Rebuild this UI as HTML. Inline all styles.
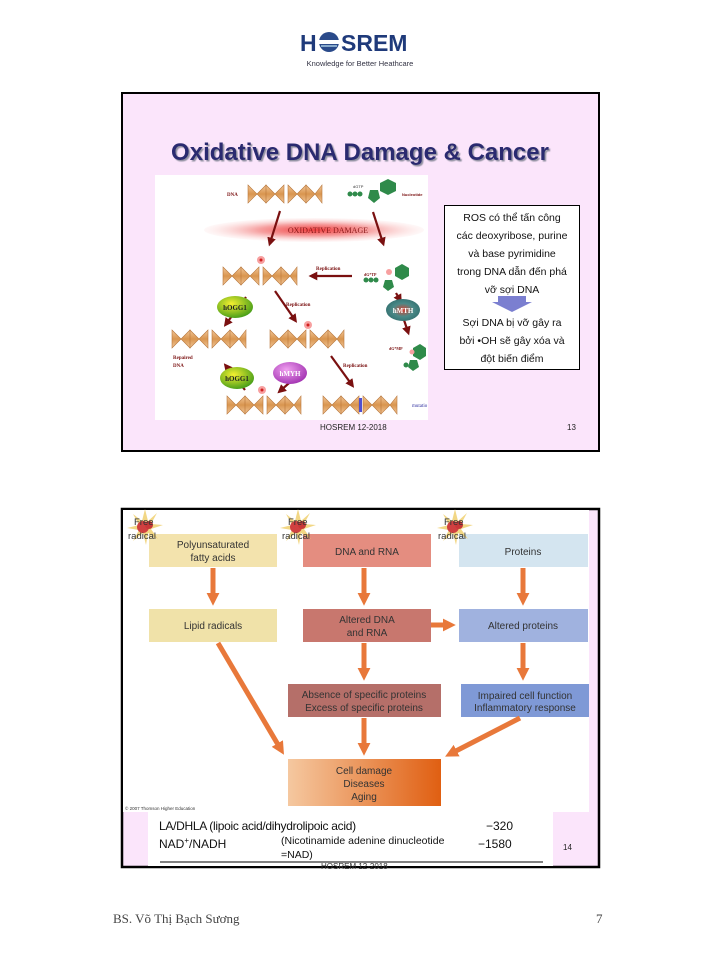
<!DOCTYPE html>
<html><head><meta charset="utf-8"><style>
body{margin:0;width:720px;height:960px;background:#fff;position:relative;font-family:"Liberation Sans",sans-serif;overflow:hidden}
.a{position:absolute}
</style></head><body>
<svg class="a" style="left:0;top:0" width="720" height="960" viewBox="0 0 720 960">
<defs>
 <linearGradient id="hx" x1="0" y1="0" x2="0" y2="1"><stop offset="0" stop-color="#f2c89a"/><stop offset="0.5" stop-color="#d9954f"/><stop offset="1" stop-color="#f2c89a"/></linearGradient>
 <g id="hel">
  <path d="M0,0 L9,9 L0,18 Z M18,0 L9,9 L18,18 Z M18,0 L27,9 L18,18Z M36,0 L27,9 L36,18Z" fill="url(#hx)" stroke="#b8763a" stroke-width="0.6"/>
  <path d="M40,0 L49,9 L40,18 Z M58,0 L49,9 L58,18 Z M58,0 L67,9 L58,18Z M74,0 L67,9 L74,18Z" fill="url(#hx)" stroke="#b8763a" stroke-width="0.6"/>
 </g>
 <radialGradient id="ox" cx="0.5" cy="0.5" r="0.5"><stop offset="0" stop-color="#f04040"/><stop offset="0.5" stop-color="#f6a0a0"/><stop offset="1" stop-color="#fde8e8" stop-opacity="0.3"/></radialGradient>
 <radialGradient id="gr" cx="0.4" cy="0.35" r="0.7"><stop offset="0" stop-color="#f5f030"/><stop offset="1" stop-color="#3f9a18"/></radialGradient>
 <radialGradient id="tl" cx="0.5" cy="0.5" r="0.6"><stop offset="0" stop-color="#d84030"/><stop offset="0.5" stop-color="#4a8a88"/><stop offset="1" stop-color="#2f6a6a"/></radialGradient>
 <radialGradient id="pu" cx="0.4" cy="0.35" r="0.7"><stop offset="0" stop-color="#f0a0f0"/><stop offset="1" stop-color="#a030b0"/></radialGradient>
 <linearGradient id="cd" x1="0" x2="1"><stop offset="0" stop-color="#f5c8a0"/><stop offset="1" stop-color="#e05f12"/></linearGradient>
 <marker id="dr" viewBox="0 0 10 10" refX="6" refY="5" markerWidth="4" markerHeight="4" orient="auto"><path d="M0,0 L10,5 L0,10 Z" fill="#7a1010"/></marker>
 <marker id="or" viewBox="0 0 10 10" refX="4" refY="5" markerWidth="2.6" markerHeight="2.6" orient="auto"><path d="M0,0 L10,5 L0,10 Z" fill="#e8783a"/></marker>
 <filter id="sh"><feDropShadow dx="1.5" dy="1.5" stdDeviation="0.6" flood-color="#9090a0"/></filter>
 <g id="star"><polygon points="0,-18 3,-6 12,-14 6,-3 18,-2 6,2 13,12 3,6 1,18 -2,6 -12,14 -6,3 -18,1 -6,-2 -12,-13 -3,-6" fill="#f0d070" opacity="0.85"/><circle cx="-2" cy="0" r="6" fill="#d04040"/><circle cx="4" cy="-2" r="4" fill="#c83838"/></g>
</defs>

<!-- header logo -->
<text x="300" y="51" font-size="23" font-weight="bold" fill="#1f3a7a" font-family="Liberation Sans">H</text>
<circle cx="329" cy="42" r="10" fill="#2a4a8a"/><rect x="319" y="40" width="20" height="4" fill="#fff"/><rect x="321" y="45" width="16" height="2" fill="#8ac"/>
<text x="341" y="51" font-size="23" font-weight="bold" fill="#1f3a7a" font-family="Liberation Sans">SREM</text>
<text x="360" y="66" font-size="7.5" fill="#334" text-anchor="middle">Knowledge for Better Heathcare</text>

<!-- slide 1 -->
<rect x="122" y="93" width="477" height="358" fill="#fbe5fb" stroke="#000" stroke-width="2"/>
<text x="360" y="160" font-size="24" font-weight="bold" fill="#2b2b70" text-anchor="middle" filter="url(#sh)">Oxidative DNA Damage &amp; Cancer</text>
<rect x="155" y="175" width="273" height="245" fill="#fff"/>
<ellipse cx="314" cy="230" rx="110" ry="12" fill="url(#ox)"/>
<text x="328" y="233" font-size="8" fill="#8a1a1a" font-family="Liberation Serif" text-anchor="middle">OXIDATIVE DAMAGE</text>
<text x="227" y="196" font-size="5" font-weight="bold" fill="#7a1010" font-family="Liberation Serif">DNA</text>
<use href="#hel" x="248" y="185"/>
<use href="#hel" x="223" y="267"/>
<use href="#hel" x="172" y="330"/>
<use href="#hel" x="270" y="330"/>
<use href="#hel" x="227" y="396"/>
<use href="#hel" x="323" y="396"/>
<circle cx="261" cy="260" r="4" fill="#f7a0a0"/><circle cx="261" cy="260" r="1.5" fill="#d02020"/>
<circle cx="308" cy="325" r="4" fill="#f7a0a0"/><circle cx="308" cy="325" r="1.5" fill="#d02020"/>
<circle cx="262" cy="390" r="4" fill="#f7a0a0"/><circle cx="262" cy="390" r="1.5" fill="#d02020"/>
<rect x="359" y="398" width="3" height="14" fill="#5050d0"/>
<text x="412" y="407" font-size="5" fill="#3030a0" font-family="Liberation Serif">mutatio</text>
<g fill="#2f8a4a"><circle cx="350" cy="194" r="2.5"/><circle cx="355" cy="194" r="2.5"/><circle cx="360" cy="194" r="2.5"/><polygon points="370,190 378,190 380,198 374,203 368,198"/><polygon points="380,183 388,179 396,183 396,191 388,195 380,191"/></g>
<text x="353" y="188" font-size="4" fill="#333">dGTP</text><text x="402" y="196" font-size="4" font-weight="bold" fill="#7a1010">Nucleotide</text>
<g fill="#2f8a4a"><circle cx="366" cy="280" r="2.5"/><circle cx="371" cy="280" r="2.5"/><circle cx="376" cy="280" r="2.5"/><polygon points="385,280 392,280 394,287 388,291 383,287"/><polygon points="395,268 402,264 409,268 409,276 402,280 395,276"/></g>
<circle cx="389" cy="272" r="3" fill="#f7a0a0"/>
<g fill="#2f8a4a"><circle cx="406" cy="365" r="2.5"/><polygon points="410,360 417,360 419,367 413,371 408,367"/><polygon points="413,348 420,344 426,348 426,356 420,360 413,356"/></g>
<circle cx="412" cy="352" r="2.5" fill="#f7a0a0"/>
<g stroke="#7a1010" stroke-width="2.2" fill="none" marker-end="url(#dr)">
<line x1="280" y1="211" x2="270" y2="243"/>
<line x1="373" y1="212" x2="383" y2="243"/>
<line x1="352" y1="276" x2="312" y2="276"/>
<line x1="246" y1="297" x2="226" y2="324"/>
<line x1="275" y1="291" x2="295" y2="320"/>
<line x1="396" y1="293" x2="400" y2="300"/>
<line x1="404" y1="320" x2="408" y2="332"/>
<line x1="331" y1="356" x2="352" y2="385"/>
<line x1="296" y1="377" x2="280" y2="391"/>
<line x1="245" y1="390" x2="226" y2="366"/>
</g>
<g font-size="5" font-weight="bold" fill="#7a1010" font-family="Liberation Serif">
<text x="316" y="270">Replication</text><text x="286" y="306">Replication</text><text x="343" y="367">Replication</text>
<text x="173" y="359">Repaired</text><text x="173" y="367">DNA</text><text x="389" y="350" font-size="4">dG*MP</text><text x="364" y="276" font-size="4">dG*TP</text>
</g>
<ellipse cx="235" cy="307" rx="18" ry="11" fill="url(#gr)"/><text x="235" y="310" font-size="7" font-weight="bold" text-anchor="middle" font-family="Liberation Serif" fill="#222">hOGG1</text>
<ellipse cx="403" cy="310" rx="17" ry="11" fill="url(#tl)"/><text x="403" y="313" font-size="7" font-weight="bold" text-anchor="middle" font-family="Liberation Serif" fill="#fff">hMTH</text>
<ellipse cx="290" cy="373" rx="17" ry="11" fill="url(#pu)"/><text x="290" y="376" font-size="7" font-weight="bold" text-anchor="middle" font-family="Liberation Serif" fill="#fff">hMYH</text>
<ellipse cx="237" cy="378" rx="17" ry="11" fill="url(#gr)"/><text x="237" y="381" font-size="7" font-weight="bold" text-anchor="middle" font-family="Liberation Serif" fill="#222">hOGG1</text>
<rect x="444.5" y="205.5" width="135" height="164" fill="#fff" stroke="#000" stroke-width="1"/>
<g font-size="10.5" text-anchor="middle" fill="#111">
<text x="512" y="221">ROS có thể tấn công</text><text x="512" y="239">các deoxyribose, purine</text><text x="512" y="257">và base pyrimidine</text><text x="512" y="275">trong DNA dẫn đến phá</text><text x="512" y="293">vỡ sợi DNA</text>
<text x="512" y="326">Sợi DNA bị vỡ gây ra</text><text x="512" y="344">bởi •OH sẽ gây xóa và</text><text x="512" y="362">đột biến điểm</text>
</g>
<path d="M498,296 h28 v6 h6 l-20,10 l-20,-10 h6z" fill="#7b7fd0"/>
<text x="320" y="430" font-size="8" fill="#222">HOSREM 12-2018</text><text x="567" y="430" font-size="8" fill="#222">13</text>

<!-- slide 2 -->
<rect x="122" y="509" width="477" height="358" fill="#fbe5fb" stroke="#000" stroke-width="2.5"/>
<rect x="123" y="510" width="466" height="302" fill="#fff"/>
<rect x="148" y="812" width="405" height="54" fill="#fff"/>
<g font-size="10" fill="#333" text-anchor="middle">
<rect x="149" y="534" width="128" height="33" fill="#f3e3ad"/><text x="213" y="548">Polyunsaturated</text><text x="213" y="561">fatty acids</text>
<rect x="303" y="534" width="128" height="33" fill="#e48d80"/><text x="367" y="555">DNA and RNA</text>
<rect x="459" y="534" width="129" height="33" fill="#d4e5f0"/><text x="523" y="555">Proteins</text>
<rect x="149" y="609" width="128" height="33" fill="#f0e2a9"/><text x="213" y="629">Lipid radicals</text>
<rect x="303" y="609" width="128" height="33" fill="#c8776e"/><text x="367" y="623">Altered DNA</text><text x="367" y="636">and RNA</text>
<rect x="459" y="609" width="129" height="33" fill="#a0b2df"/><text x="523" y="629">Altered proteins</text>
<rect x="288" y="684" width="153" height="33" fill="#b56f69"/><text x="364" y="698">Absence of specific proteins</text><text x="364" y="711">Excess of specific proteins</text>
<rect x="461" y="684" width="128" height="33" fill="#7f99d6"/><text x="525" y="699">Impaired cell function</text><text x="525" y="711">Inflammatory response</text>
<rect x="288" y="759" width="153" height="47" fill="url(#cd)"/><text x="364" y="774">Cell damage</text><text x="364" y="787">Diseases</text><text x="364" y="800">Aging</text>
</g>
<g stroke="#e8783a" stroke-width="5" fill="none" marker-end="url(#or)">
<line x1="213" y1="568" x2="213" y2="598"/><line x1="364" y1="568" x2="364" y2="598"/><line x1="523" y1="568" x2="523" y2="598"/>
<line x1="431" y1="625" x2="448" y2="625"/>
<line x1="364" y1="643" x2="364" y2="673"/><line x1="523" y1="643" x2="523" y2="673"/>
<line x1="218" y1="643" x2="280" y2="748"/>
<line x1="364" y1="718" x2="364" y2="748"/>
<line x1="520" y1="718" x2="452" y2="753"/>
</g>
<use href="#star" x="145" y="527"/><use href="#star" x="298" y="527"/><use href="#star" x="455" y="527"/>
<g font-size="9.5" fill="#333">
<text x="134" y="525">Free</text><text x="128" y="539">radical</text>
<text x="288" y="525">Free</text><text x="282" y="539">radical</text>
<text x="444" y="525">Free</text><text x="438" y="539">radical</text>
</g>
<text x="125" y="810" font-size="4.5" fill="#333">© 2007 Thomson Higher Education</text>
<g font-size="12" fill="#111" font-family="Liberation Sans">
<text x="159" y="830" letter-spacing="-0.3">LA/DHLA (lipoic acid/dihydrolipoic acid)</text>
<text x="159" y="848">NAD<tspan font-size="8" dy="-5">+</tspan><tspan dy="5">/NADH</tspan></text>
<text x="486" y="830">−320</text><text x="478" y="848">−1580</text>
</g>
<text x="281" y="844" font-size="10.5" fill="#111">(Nicotinamide adenine dinucleotide</text>
<text x="281" y="858" font-size="10.5" fill="#111">=NAD)</text>
<line x1="160" y1="862" x2="543" y2="862" stroke="#000" stroke-width="1"/>
<text x="321" y="869" font-size="8" fill="#333">HOSREM 12-2018</text>
<text x="563" y="850" font-size="8" fill="#222">14</text>

<text x="113" y="923" font-size="13" fill="#444" font-family="Liberation Serif">BS. Võ Thị Bạch Sương</text>
<text x="596" y="923" font-size="13" fill="#444" font-family="Liberation Serif">7</text>
</svg>
</body></html>
